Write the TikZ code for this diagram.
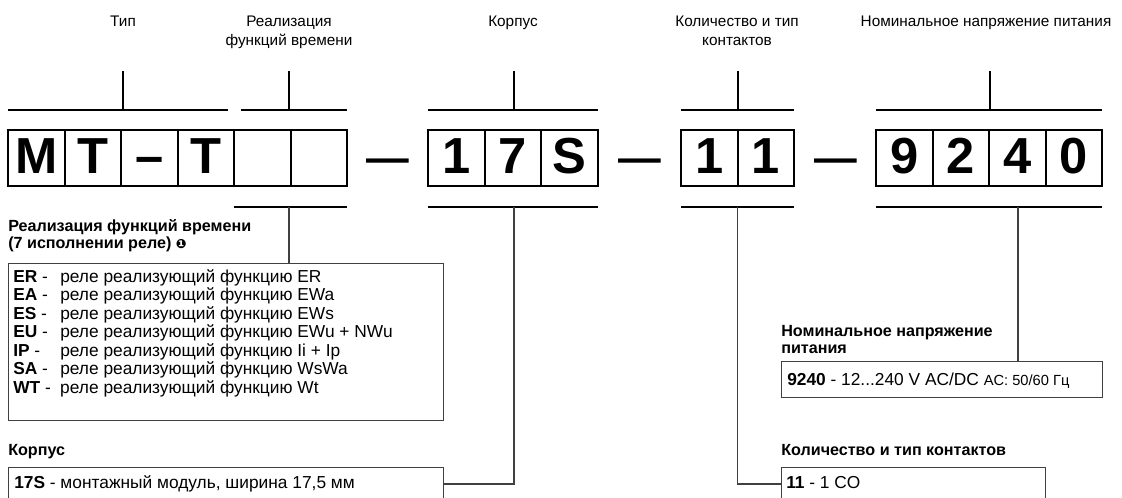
\documentclass[tikz,border=0pt]{standalone}
\usepackage{fontspec}
\setmainfont{Liberation Sans}
\newfontfamily\djv{DejaVu Sans}
\begin{document}
\begin{tikzpicture}[x=0.75pt,y=-0.75pt,
  cell/.style={draw, line width=1.5pt, minimum width=56.5*0.75pt, minimum height=56*0.75pt, inner sep=0pt,
    font=\fontsize{38}{38}\selectfont\bfseries, text height=27.2pt, text depth=3.4pt},
  sepdash/.style={inner sep=0pt, anchor=base, font=\fontsize{32}{32}\selectfont\bfseries},
  bar/.style={line width=1.25pt},
  lowbar/.style={line width=1pt},
  conn/.style={line width=0.8pt, draw=black!75},
  label/.style={inner sep=0pt, anchor=base, font=\fontsize{11.5}{14.25}\selectfont},
  head/.style={inner sep=0pt, anchor=base west, font=\fontsize{12.1}{12.75}\selectfont\bfseries},
  infobox/.style={draw=black!75, line width=0.9pt, inner sep=0pt, anchor=north west},
  body/.style={inner sep=0pt, anchor=base west, font=\fontsize{13}{13.9}\selectfont},
]
\path[use as bounding box, clip] (0,0) rectangle (1122,497);
\fill[white] (0,0) rectangle (1122,497);

% top labels
\node[label] (lTyp) at (123,26) {Тип};
\node[label] (lReal) at (289,26) {\begin{tabular}[t]{@{}c@{}}Реализация\\функций времени\end{tabular}};
\node[label] (lKorp) at (513,26) {Корпус};
\node[label] (lKol) at (737,26) {\begin{tabular}[t]{@{}c@{}}Количество и тип\\контактов\end{tabular}};
\node[label] (lNom) at (986,26) {Номинальное напряжение питания};

% top bars and ticks
\coordinate (tA1) at (8,110);   \coordinate (tA2) at (228,110);
\coordinate (tAt) at (123,71);  \coordinate (tAb) at (123,110);
\coordinate (tB1) at (241,110); \coordinate (tB2) at (347,110);
\coordinate (tBt) at (289,71);  \coordinate (tBb) at (289,110);
\coordinate (tC1) at (428,110); \coordinate (tC2) at (598,110);
\coordinate (tCt) at (514,71);  \coordinate (tCb) at (514,110);
\coordinate (tD1) at (681,110); \coordinate (tD2) at (794,110);
\coordinate (tDt) at (738,71);  \coordinate (tDb) at (738,110);
\coordinate (tE1) at (876,110); \coordinate (tE2) at (1102,110);
\coordinate (tEt) at (990,71);  \coordinate (tEb) at (990,110);
\foreach \s in {A,B,C,D,E}{
  \draw[bar] (t\s1) -- (t\s2);
  \draw[bar] (t\s t) -- (t\s b);
}

% cells
\foreach \i/\t in {1/M,2/T,3/–,4/T,5/{},6/{}}
  \node[cell] (a\i) at ({8+56.5*(\i-0.5)},158) {\t};
\foreach \i/\t in {1/1,2/7,3/S}
  \node[cell, minimum width=56.67*0.75pt] (b\i) at ({428+56.67*(\i-0.5)},158) {\t};
\foreach \i/\t in {1/1,2/1}
  \node[cell] (c\i) at ({681+56.5*(\i-0.5)},158) {\t};
\foreach \i/\t in {1/9,2/2,3/4,4/0}
  \node[cell] (d\i) at ({876+56.5*(\i-0.5)},158) {\t};

% separating dashes
\node[sepdash] (s1) at (387.5,172) {—};
\node[sepdash] (s2) at (639.5,172) {—};
\node[sepdash] (s3) at (835.5,172) {—};

% info boxes
\node[infobox, minimum width=435*0.75pt, minimum height=157*0.75pt] (fbox) at (8,263) {};
\node[infobox, minimum width=435*0.75pt, minimum height=60*0.75pt] (kbox) at (8,467) {};
\node[infobox, minimum width=264*0.75pt, minimum height=60*0.75pt] (cbox) at (781,467) {};
\node[infobox, minimum width=321*0.75pt, minimum height=36*0.75pt] (vbox) at (781,361) {};

% bottom bars and connectors
\coordinate (bA1) at (234,207); \coordinate (bA2) at (347,207); \coordinate (bAt) at (289,207);
\coordinate (bB1) at (428,207); \coordinate (bB2) at (598,207); \coordinate (bBt) at (514,207);
\coordinate (bC1) at (681,207); \coordinate (bC2) at (794,207); \coordinate (bCt) at (737.5,207);
\coordinate (bD1) at (876,207); \coordinate (bD2) at (1102,207); \coordinate (bDt) at (1018,207);
\foreach \s in {A,B,C,D} \draw[lowbar] (b\s1) -- (b\s2);
\coordinate (kin) at (443,484);
\coordinate (cin) at (781,484);
\draw[conn] (bAt) -- (bAt |- fbox.north);
\draw[conn] (bBt) |- (kin);
\draw[conn] (bCt) |- (cin);
\draw[conn] (bDt) -- (bDt |- vbox.north);

% headings
\node[head] (hF) at (8,231) {\begin{tabular}[t]{@{}l@{}}Реализация функций времени\\(7 исполнении реле) {\djv\fontsize{9.5}{9.5}\selectfont ❶}\end{tabular}};
\node[head] (hK) at (8,455) {Корпус};
\node[head] (hC) at (781,455) {Количество и тип контактов};
\node[head] (hV) at (781,336) {\begin{tabular}[t]{@{}l@{}}Номинальное напряжение\\питания\end{tabular}};

% box texts
\node[body] (tF) at (13,282) {\begin{tabular}[t]{@{}l@{}}
\makebox[35.25pt][l]{\textbf{ER} -}реле реализующий функцию ER\\
\makebox[35.25pt][l]{\textbf{EA} -}реле реализующий функцию EWa\\
\makebox[35.25pt][l]{\textbf{ES} -}реле реализующий функцию EWs\\
\makebox[35.25pt][l]{\textbf{EU} -}реле реализующий функцию EWu + NWu\\
\makebox[35.25pt][l]{\textbf{IP} -}реле реализующий функцию Ii + Ip\\
\makebox[35.25pt][l]{\textbf{SA} -}реле реализующий функцию WsWa\\
\makebox[35.25pt][l]{\textbf{WT} -}реле реализующий функцию Wt
\end{tabular}};
\node[body] (tK) at (14,488) {\textbf{17S} - монтажный модуль, ширина 17,5 мм};
\node[body] (tC) at (786,488) {\textbf{11} - 1 CO};
\node[body] (tV) at (787,385) {\textbf{9240} - 12...240 V AC/DC {\fontsize{11}{11}\selectfont AC: 50/60 Гц}};
\end{tikzpicture}
\end{document}
